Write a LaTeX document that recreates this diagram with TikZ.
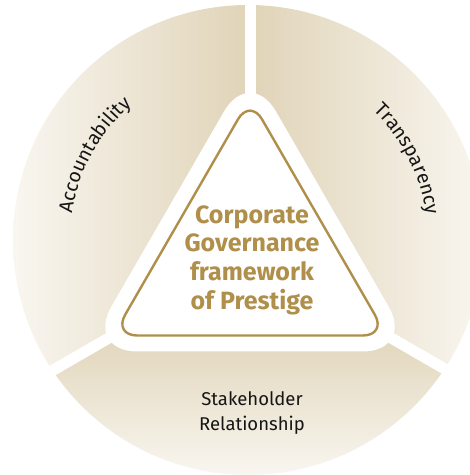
\documentclass[tikz,border=0pt]{standalone}
\usepackage{fontspec}
\setmainfont{Fira Sans}
\usetikzlibrary{calc,decorations.text}
\definecolor{sanddark}{HTML}{E0D4B8}
\definecolor{sandlight}{HTML}{F9F6F0}
\definecolor{gold}{HTML}{B08F4A}
\definecolor{inktext}{HTML}{151515}
\tikzset{
  gapline/.style={white, line width=11pt},
  arclabel/.style={decorate, decoration={text along path, text align=center,
      text={|\fontsize{19.5}{21}\selectfont\color{inktext}|#1}}},
  centretitle/.style={align=center, text=gold, font=\fontsize{25}{28.7}\selectfont\bfseries},
  sectorlabel/.style={align=center, text=inktext, font=\fontsize{18.5}{25.5}\selectfont},
}
\begin{document}
\begin{tikzpicture}[x=1pt,y=1pt]
\useasboundingbox (0,0) rectangle (470,475);
\coordinate (C) at (248,235);
\coordinate (G) at (250,218.5);

% three shaded sectors of the disc
\begin{scope}
  \clip (C) circle[radius=235];
  \begin{scope}
    \clip (G) -- +(90:700) -- +(150:800) -- +(210:700) -- cycle;
    \shade[left color=sandlight, right color=sanddark] (13,0) rectangle (250,475);
  \end{scope}
  \begin{scope}
    \clip (G) -- +(90:700) -- +(30:800) -- +(-30:700) -- cycle;
    \shade[left color=sanddark, right color=sandlight] (250,0) rectangle (483,475);
  \end{scope}
  \begin{scope}
    \clip (G) -- +(210:700) -- +(270:800) -- +(330:700) -- cycle;
    \shade[top color=sanddark, bottom color=sandlight] (0,0) rectangle (470,150);
  \end{scope}
\end{scope}

% white gaps between the sectors
\draw[gapline] (G) -- +(90:300);
\draw[gapline] (G) -- +(210:300);
\draw[gapline] (G) -- +(330:300);

% central rounded triangle
\fill[white, rounded corners=52]
  ($(G)+(90:190)$) -- ($(G)+(210:190)$) -- ($(G)+(330:190)$) -- cycle;
\draw[gold, line width=2.4pt, rounded corners=24]
  ($(G)+(90:158)$) -- ($(G)+(210:158)$) -- ($(G)+(330:158)$) -- cycle;

\node[centretitle] (title) at (252,215) {Corporate\\Governance\\framework\\of Prestige};

% curved sector labels
\path[arclabel={Accountability}] ($(C)+(182:178)$) arc[start angle=182, end angle=120, radius=178];
\path[arclabel={Transparency}] ($(C)+(57:180)$) arc[start angle=57, end angle=-3, radius=180];

\node[sectorlabel] (stake) at (252,62) {Stakeholder\\Relationship};
\end{tikzpicture}
\end{document}
